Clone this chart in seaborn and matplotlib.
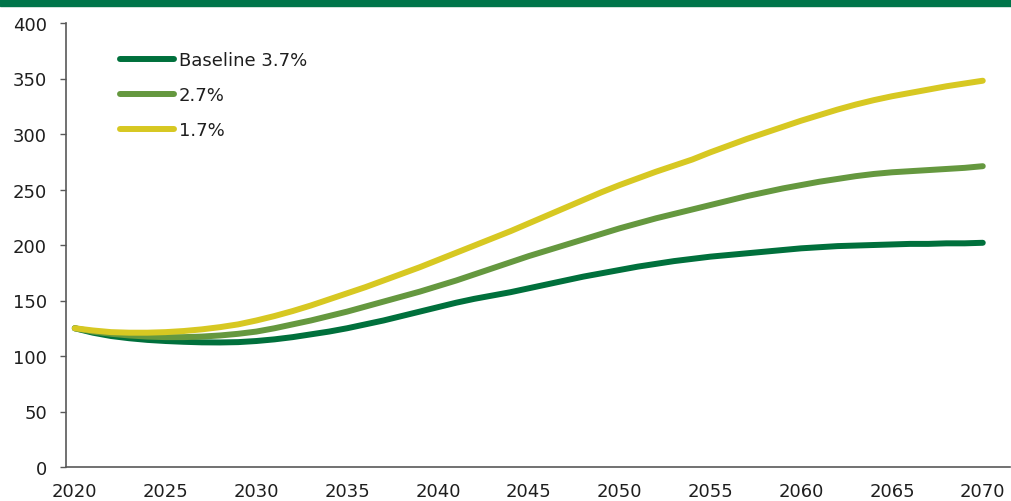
import numpy as np
import pandas as pd
import matplotlib
matplotlib.use("Agg")
import matplotlib.pyplot as plt
from matplotlib.ticker import MultipleLocator, FixedLocator
import seaborn as sns

# 資料：依圖片估讀
years = list(range(2020, 2071))
baseline = [125, 121, 118, 116, 114.5, 113.5, 112.8, 112.3, 112.2, 112.5,
            113.5, 115, 117, 119.5, 122, 125, 128.5, 132, 136, 140,
            144, 148, 151.5, 154.5, 157.5, 161, 164.5, 168, 171.5, 174.5,
            177.5, 180.5, 183, 185.5, 187.5, 189.5, 191, 192.5, 194, 195.5,
            197, 198, 199, 199.5, 200, 200.5, 201, 201, 201.5, 201.5, 202]
mid = [125, 122, 120, 118.5, 117.5, 117, 117, 117.5, 118.5, 120,
       122, 125, 128.5, 132, 136, 140, 144.5, 149, 153.5, 158,
       163, 168, 173.5, 179, 184.5, 190, 195, 200, 205, 210,
       215, 219.5, 224, 228, 232, 236, 240, 244, 247.5, 251,
       254, 257, 259.5, 262, 264, 265.5, 266.5, 267.5, 268.5, 269.5, 271]
low = [125, 123, 121.5, 121, 121, 121.5, 122.5, 124, 126, 128.5,
       132, 136, 140.5, 145.5, 151, 156.5, 162, 168, 174, 180,
       186.5, 193, 199.5, 206, 212.5, 219.5, 226.5, 233.5, 240.5, 247.5,
       254, 260, 266, 271.5, 277, 283.5, 289.5, 295.5, 301, 306.5,
       312, 317, 322, 326.5, 330.5, 334, 337, 340, 343, 345.5, 348]
labels = ["Baseline 3.7%", "2.7%", "1.7%"]
colors = ["#00703C", "#65983F", "#D7C822"]

df = pd.DataFrame({"year": years * 3,
                   "value": baseline + mid + low,
                   "scenario": [labels[0]] * len(years) + [labels[1]] * len(years) + [labels[2]] * len(years)})

sns.set_style("white")
plt.rcParams["font.family"] = ["DejaVu Sans"]

fig = plt.figure(figsize=(10.11, 5.02), dpi=100)
ax = fig.add_axes([65.7 / 1011, (502 - 468) / 502, (1010 - 65.7) / 1011, 444 / 502])

sns.lineplot(data=df, x="year", y="value", hue="scenario", hue_order=labels,
             palette=colors, linewidth=4.3, ax=ax, legend=False,
             solid_capstyle="round")

# 上方綠色色帶
fig.add_artist(plt.Rectangle((0, 1 - 7 / 502), 1, 7 / 502, transform=fig.transFigure,
                             color="#00754A", zorder=0))

ax.set_xlim(2019.5, 2071.5)
ax.set_ylim(0, 400)
ax.yaxis.set_major_locator(MultipleLocator(50))
ax.xaxis.set_major_locator(FixedLocator(list(range(2020, 2071, 5))))
ax.xaxis.set_minor_locator(FixedLocator(list(np.arange(2019.5, 2072, 1.0))))
ax.tick_params(axis="x", which="major", length=0, pad=11, labelsize=13, labelcolor="#1e1e1e")
ax.tick_params(axis="x", which="minor", length=3.5, width=1, color="#595959", direction="out")
ax.tick_params(axis="y", which="major", length=4.5, width=1, color="#595959", pad=9,
               labelsize=13, labelcolor="#1e1e1e", left=True)
ax.set_xlabel("")
ax.set_ylabel("")
for side in ["top", "right"]:
    ax.spines[side].set_visible(False)
for side in ["left", "bottom"]:
    ax.spines[side].set_color("#595959")
    ax.spines[side].set_linewidth(1.2)

handles = [plt.Line2D([0], [0], color=c, linewidth=4.3, solid_capstyle="round") for c in colors]
leg = ax.legend(handles, labels, loc="upper left", bbox_to_anchor=(0.057, 0.937), frameon=False,
                fontsize=13, handlelength=3.0, handletextpad=0.3, labelspacing=0.95,
                borderpad=0, borderaxespad=0)
for t in leg.get_texts():
    t.set_color("#1e1e1e")

fig.savefig("out.png", dpi=100)
